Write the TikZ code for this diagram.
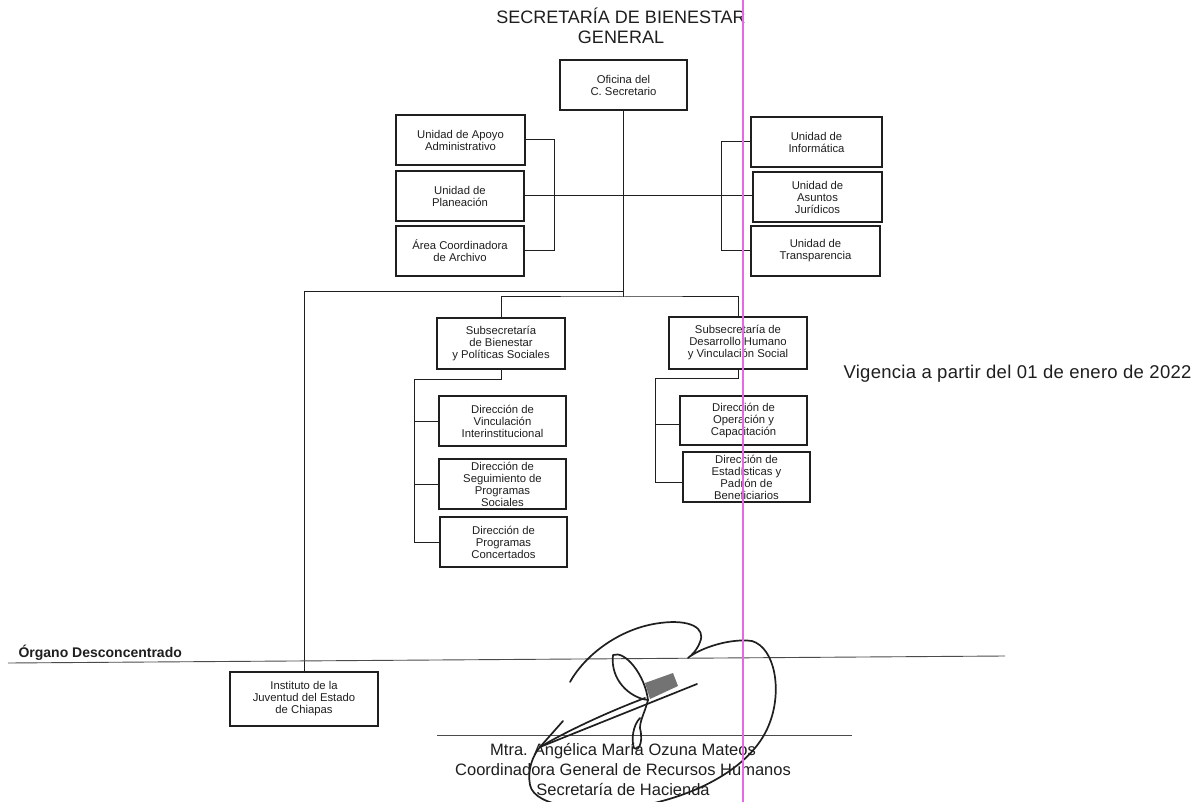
\documentclass[tikz,border=0pt]{standalone}
\usepackage{fontspec}
\setmainfont{Liberation Sans}
\definecolor{ink}{gray}{0.12}
\definecolor{scanpink}{RGB}{228,105,228}
\definecolor{patch}{gray}{0.45}
\tikzset{
  orgbox/.style={draw=ink, line width=1.1pt, align=center, inner sep=0pt, text=ink,
    font=\fontsize{11.3}{12}\selectfont},
  conn/.style={draw=ink, line width=1.0pt},
  sep/.style={draw=ink!80, line width=0.9pt},
  sig/.style={draw=ink, line width=1.7pt, line cap=round, line join=round},
}
\begin{document}
\begin{tikzpicture}[x=1pt,y=-1pt]
\path[use as bounding box, fill=white] (0,0) rectangle (1194,802);

% titles
\node[anchor=base, text=ink, font=\fontsize{18}{20}\selectfont] (t1) at (621,24) {SECRETARÍA DE BIENESTAR};
\node[anchor=base, text=ink, font=\fontsize{18}{20}\selectfont] (t2) at (621,44) {GENERAL};

% boxes
\node[orgbox, minimum width=127pt, minimum height=50pt] (ofi) at (623.5,85) {Oficina del\\C. Secretario};
\node[orgbox, minimum width=129pt, minimum height=50pt] (uaa) at (460.5,140) {Unidad de Apoyo\\Administrativo};
\node[orgbox, minimum width=128pt, minimum height=50pt] (upl) at (460,196) {Unidad de\\Planeación};
\node[orgbox, minimum width=128pt, minimum height=50pt] (aca) at (460,251) {Área Coordinadora\\de Archivo};
\node[orgbox, minimum width=131pt, minimum height=50pt] (uin) at (816.5,142) {Unidad de\\Informática};
\node[orgbox, minimum width=129pt, minimum height=50pt] (uaj) at (817.5,197) {Unidad de\\Asuntos\\Jurídicos};
\node[orgbox, minimum width=129pt, minimum height=50pt] (utr) at (815.5,251) {Unidad de\\Transparencia};
\node[orgbox, minimum width=128pt, minimum height=51pt] (sbp) at (501,343.5) {Subsecretaría\\de Bienestar\\y Políticas Sociales};
\node[orgbox, minimum width=138pt, minimum height=52pt] (sdh) at (738,343) {Subsecretaría de\\Desarrollo Humano\\y Vinculación Social};
\node[orgbox, minimum width=127pt, minimum height=50pt] (dvi) at (502.5,421) {Dirección de\\Vinculación\\Interinstitucional};
\node[orgbox, minimum width=127pt, minimum height=50pt] (dsp) at (502.5,484) {Dirección de\\Seguimiento de\\Programas\\Sociales};
\node[orgbox, minimum width=127pt, minimum height=50pt] (dpc) at (503.5,542) {Dirección de\\Programas\\Concertados};
\node[orgbox, minimum width=127pt, minimum height=49pt] (doc) at (743.5,420.5) {Dirección de\\Operación y\\Capacitación};
\node[orgbox, minimum width=127pt, minimum height=50pt] (dep) at (746.5,477) {Dirección de\\Estadísticas y\\Padrón de\\Beneficiarios};
\node[orgbox, minimum width=148pt, minimum height=54pt] (inst) at (304,699) {Instituto de la\\Juventud del Estado\\de Chiapas};

% junction coordinates
\coordinate (j1) at (623.5,292);
\coordinate (j2) at (623.5,297);
\coordinate (lb) at (554,0);
\coordinate (rb) at (721,0);
\coordinate (sl) at (414,379);
\coordinate (sr) at (655,378);

% connectors
\draw[conn] (ofi.south) -- (j2);
\draw[conn] (j1) -- (j1 -| inst.north) -- (inst.north);
\draw[conn] (sbp.north) |- (j2) -| (sdh.north);
\draw[conn] (uaa.east) -- (uaa.east -| lb) -- (aca.east -| lb) -- (aca.east);
\draw[conn] (upl.east) -- (upl.east -| uaj.west);
\draw[conn] (uin.west) -- (uin.west -| rb) -- (utr.west -| rb) -- (utr.west);
\draw[conn] (sbp.south) |- (sl) |- (dpc.west);
\draw[conn] (dvi.west -| sl) -- (dvi.west);
\draw[conn] (dsp.west -| sl) -- (dsp.west);
\draw[conn] (sdh.south) |- (sr) |- ([yshift=-5pt]dep.west);
\draw[conn] ([yshift=-4pt]doc.west -| sr) -- ([yshift=-4pt]doc.west);

% vigencia
\node[anchor=base west, text=ink, font=\fontsize{18.5}{20}\selectfont\addfontfeatures{LetterSpace=1.5}] (vig) at (840,378) {Vigencia a partir del 01 de enero de 2022};

% organo desconcentrado
\node[anchor=base west, text=ink, font=\fontsize{14}{16}\selectfont\bfseries] (org) at (15,657) {Órgano Desconcentrado};
\draw[sep] (8,663) -- (1005,656);

% signature line and names
\draw[sep] (437,735) -- (852,735);
\node[anchor=base, text=ink, font=\fontsize{16.5}{20}\selectfont] (n1) at (623,755) {Mtra. Angélica María Ozuna Mateos};
\node[anchor=base, text=ink, font=\fontsize{16.5}{20}\selectfont] (n2) at (623,775) {Coordinadora General de Recursos Humanos};
\node[anchor=base, text=ink, font=\fontsize{16.5}{20}\selectfont] (n3) at (623,795) {Secretaría de Hacienda};

% signature (approximate)
\fill[patch] (645,683) -- (673,673) -- (678,686) -- (650,699) -- cycle;
\draw[sig] (570,682) .. controls (585,655) and (620,628) .. (660,623)
  .. controls (690,619) and (706,628) .. (700,642)
  .. controls (697,650) and (692,655) .. (688,658)
  .. controls (700,648) and (730,638) .. (752,641)
  .. controls (775,648) and (782,690) .. (770,722)
  .. controls (755,765) and (700,795) .. (640,806)
  .. controls (590,812) and (535,808) .. (530,785)
  .. controls (527,770) and (533,755) .. (540,747);
\draw[sig] (697,684) -- (540,747);
\draw[sig] (645,698) .. controls (600,715) and (560,735) .. (540,747);
\draw[sig] (563,721) -- (540,747);
\draw[sig] (613,655) .. controls (625,650) and (645,675) .. (648,700)
  .. controls (630,698) and (610,680) .. (613,655);
\draw[sig] (648,700) .. controls (645,712) and (640,720) .. (640,728)
  .. controls (644,745) and (637,752) .. (634,748)
  .. controls (631,740) and (633,725) .. (640,718);

% scan artefact line
\draw[scanpink, line width=2pt] (743,0) -- (743,802);
\end{tikzpicture}
\end{document}
